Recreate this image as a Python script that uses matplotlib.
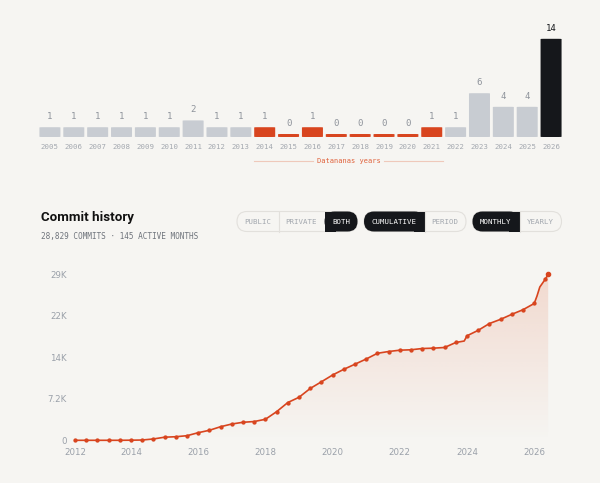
import numpy as np
import matplotlib
matplotlib.use("Agg")
import matplotlib.pyplot as plt
from matplotlib.patches import FancyBboxPatch, Rectangle
from matplotlib.path import Path
from matplotlib.patches import PathPatch

# ==== data ====
years = [str(y) for y in range(2005, 2027)]
repos_per_year = [1, 1, 1, 1, 1, 1, 2, 1, 1, 1, 0, 1, 0, 0, 0, 0, 1, 1, 6, 4, 4, 14]
datananas_years = ["2014", "2015", "2016", "2017", "2018", "2019", "2020", "2021"]

# cumulative commits, read at the marker dates (every 4 months) + a few knots
commit_dates = ["2012-05", "2012-09", "2013-01", "2013-05", "2013-09",
                "2014-01", "2014-05", "2014-09", "2015-01", "2015-05", "2015-09",
                "2016-01", "2016-05", "2016-09", "2017-01", "2017-05", "2017-09",
                "2018-01", "2018-05", "2018-09", "2019-01", "2019-05", "2019-09",
                "2020-01", "2020-05", "2020-09", "2021-01", "2021-05", "2021-09",
                "2022-01", "2022-05", "2022-09", "2023-01", "2023-05", "2023-09",
                "2023-12", "2024-01", "2024-05", "2024-09", "2025-01", "2025-05",
                "2025-09", "2026-01", "2026-02", "2026-03", "2026-05", "2026-06"]
commit_totals = [0, 0, 0, 0, 0,
                 20, 50, 230, 540, 620, 800,
                 1320, 1740, 2360, 2830, 3130, 3260,
                 3650, 4970, 6560, 7470, 9000, 10160,
                 11340, 12330, 13220, 14120, 15110, 15420,
                 15650, 15720, 15940, 16000, 16120, 16990,
                 17240, 18150, 19100, 20280, 21010, 21880,
                 22680, 23760, 25060, 26620, 28010, 28829]
knot_only = ["2023-12", "2026-02", "2026-03"]

total_commits = 28829
active_months = 145

BG = "#f6f5f2"
ORANGE = "#d8451f"
GRAY_BAR = "#c8ccd2"
DARK = "#15171b"
MUTED = "#9aa0a9"
MONO = "DejaVu Sans Mono"

fig = plt.figure(figsize=(6.0, 4.83), dpi=100, facecolor=BG)
W, H = 600, 483


def px_axes(left, top, right, bottom):
    return fig.add_axes([left / W, 1 - bottom / H, (right - left) / W, (bottom - top) / H])


# ==== top: repos per year ====
axb = px_axes(38, 20, 563, 137)
axb.set_facecolor("none")
xs = np.arange(len(years))
base = -0.44
bar_cols = []
for y, v in zip(years, repos_per_year):
    if y == "2026":
        bar_cols.append(DARK)
    elif y in datananas_years:
        bar_cols.append(ORANGE)
    else:
        bar_cols.append(GRAY_BAR)
bars = axb.bar(xs, np.array(repos_per_year) - base, bottom=base, width=0.88, color=bar_cols)
axb.set_xlim(-0.5, len(years) - 0.5)
axb.set_ylim(base, base + 117 / 6.8)
# swap plain bars for rounded ones
for b, c in zip(bars, bar_cols):
    b.set_visible(False)
    rb = FancyBboxPatch((b.get_x(), b.get_y()), b.get_width(), b.get_height(),
                        boxstyle="round,pad=0,rounding_size=0.12",
                        mutation_aspect=1 / 3.5, fc=c, ec="none")
    axb.add_patch(rb)
for x, v, c in zip(xs, repos_per_year, bar_cols):
    axb.annotate(str(v), (x, v), xytext=(0, 4.5), textcoords="offset points",
                 ha="center", va="bottom", fontsize=6.5, family=MONO,
                 color=DARK if c == DARK else "#8e939b")
axb.set_xticks(xs)
axb.set_xticklabels(years, fontsize=5.3, family=MONO, color="#a3a8af")
axb.tick_params(axis="x", length=0, pad=5)
axb.set_yticks([])
for s in axb.spines.values():
    s.set_visible(False)

# ==== overlay for header text and toggles (pixel coords) ====
ov = fig.add_axes([0, 0, 1, 1], zorder=5)
ov.set_xlim(0, W)
ov.set_ylim(H, 0)
ov.axis("off")
ov.patch.set_alpha(0)

ov.text(348.5, 161, "Datananas years", ha="center", va="center", fontsize=5.0,
        family=MONO, color="#e0623c")
ov.plot([254, 313], [161, 161], color="#efc9bb", lw=0.8)
ov.plot([384, 443], [161, 161], color="#efc9bb", lw=0.8)

ov.text(41, 218, "Commit history", ha="left", va="center", fontsize=9.6,
        fontweight="bold", family="Roboto", color="#111111")
ov.text(41, 236, f"{total_commits:,} COMMITS · {active_months} ACTIVE MONTHS",
        ha="left", va="center", fontsize=5.6, family=MONO, color="#6f747c")


def pill(x0, x1, y0, y1, segs):
    r = (y1 - y0) / 2
    ov.add_patch(FancyBboxPatch((x0, y0), x1 - x0, y1 - y0,
                                boxstyle=f"round,pad=0,rounding_size={r}",
                                fc=BG, ec="#e2e0dc", lw=0.8))
    for (sx0, sx1, label, active) in segs:
        if active:
            rl = sx0 == x0
            rr = sx1 == x1
            # black segment, rounded only on the pill end
            ov.add_patch(FancyBboxPatch((sx0, y0), sx1 - sx0, y1 - y0,
                                        boxstyle=f"round,pad=0,rounding_size={r}",
                                        fc=DARK, ec="none"))
            if not rl:
                ov.add_patch(Rectangle((sx0, y0), r + 1, y1 - y0, fc=DARK, ec="none"))
            if not rr:
                ov.add_patch(Rectangle((sx1 - r - 1, y0), r + 1, y1 - y0, fc=DARK, ec="none"))
        elif sx0 != x0:
            ov.plot([sx0, sx0], [y0, y1], color="#e2e0dc", lw=0.8)
        ov.text((sx0 + sx1) / 2, (y0 + y1) / 2 + 0.3, label, ha="center", va="center",
                fontsize=5.3, family=MONO, color="white" if active else "#a2a7ae")


pill(237, 357.5, 211.5, 231.5, [(237, 278.5, "PUBLIC", False),
                                (278.5, 324.5, "PRIVATE", False),
                                (324.5, 357.5, "BOTH", True)])
pill(364, 466, 211.5, 231.5, [(364, 424.5, "CUMULATIVE", True),
                              (424.5, 466, "PERIOD", False)])
pill(472.5, 561.5, 211.5, 231.5, [(472.5, 519.5, "MONTHLY", True),
                                  (519.5, 561.5, "YEARLY", False)])

# ==== bottom: cumulative commits ====
ax = px_axes(64, 265, 560, 450)
ax.set_facecolor("none")
t = np.array([int(d[:4]) + (int(d[5:]) - 1) / 12 for d in commit_dates])
v = np.array(commit_totals, dtype=float)
ax.set_xlim(2014 + (64 - 131) / 33.6, 2014 + (560 - 131) / 33.6)
ax.set_ylim(-(450 - 440.3) * total_commits / 166, total_commits + (274.3 - 265) * total_commits / 166)

# gradient fill under the line
verts = list(zip(t, v)) + [(t[-1], 0), (t[0], 0)]
poly = PathPatch(Path(verts), fc="none", ec="none")
ax.add_patch(poly)
grad = np.zeros((256, 1, 4))
rgb = matplotlib.colors.to_rgb("#e58a6a")
grad[..., 0], grad[..., 1], grad[..., 2] = rgb
grad[:, 0, 3] = np.linspace(0.26, 0.0, 256)
img = ax.imshow(grad, extent=[t[0], t[-1], 0, total_commits], origin="upper",
                aspect="auto", zorder=1, interpolation="bilinear")
img.set_clip_path(poly)

mark_idx = [i for i, d in enumerate(commit_dates) if d not in knot_only]
ax.plot(t, v, color=ORANGE, lw=1.2, zorder=3, solid_joinstyle="round",
        marker="o", markersize=2.1, markevery=mark_idx)
ax.plot(t[-1], v[-1], "o", color=ORANGE, markersize=3.0, zorder=4)

yt = [0, total_commits / 4, total_commits / 2, total_commits * 3 / 4, total_commits]
ax.set_yticks(yt)
ax.set_yticklabels(["0", "7.2K", "14K", "22K", "29K"], fontsize=6.2, color=MUTED)
ax.set_xticks([t[0], 2014, 2016, 2018, 2020, 2022, 2024, 2026])
ax.set_xticklabels(["2012", "2014", "2016", "2018", "2020", "2022", "2024", "2026"],
                   fontsize=6.2, color=MUTED)
ax.tick_params(length=0)
ax.tick_params(axis="x", pad=-1.5)
ax.tick_params(axis="y", pad=-2)
for s in ax.spines.values():
    s.set_visible(False)

fig.savefig("out.png", dpi=100, facecolor=BG)
